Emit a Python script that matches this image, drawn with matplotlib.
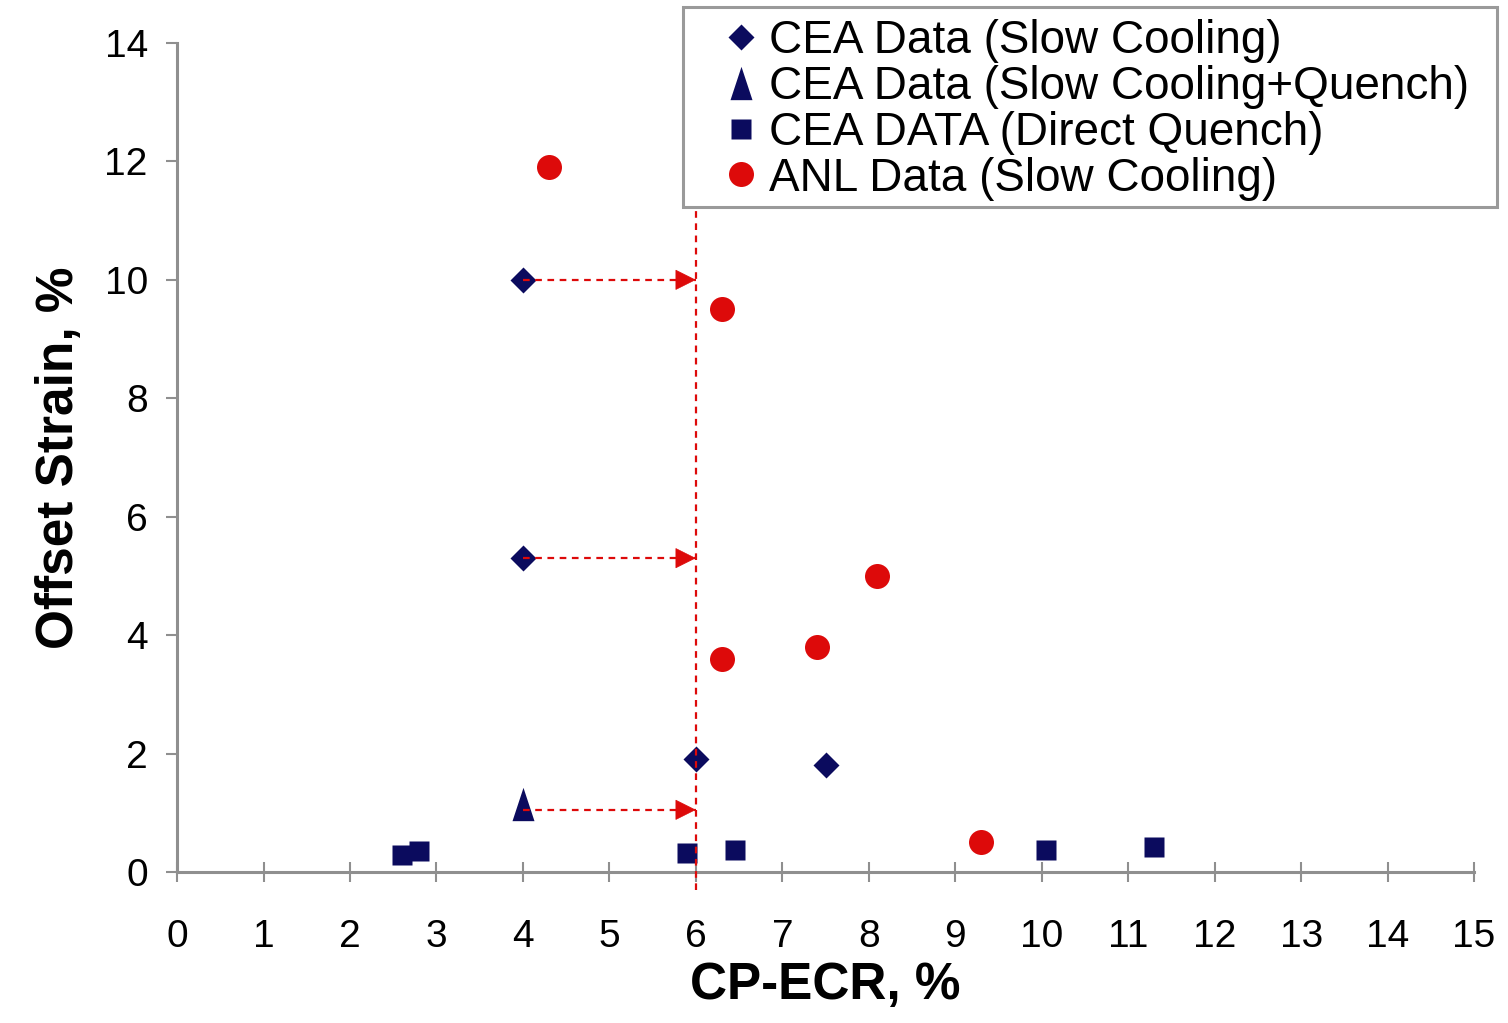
import matplotlib.pyplot as plt
from matplotlib.patches import Rectangle

plt.rcParams['font.family'] = ['Liberation Sans', 'DejaVu Sans']

# CEA data, slow cooling
slow_x = [4.0, 4.0, 6.0, 7.5]
slow_y = [10.0, 5.3, 1.9, 1.8]
# CEA data, slow cooling + quench
quench_x = [4.0]
quench_y = [1.15]
# CEA data, direct quench
direct_x = [2.6, 2.8, 5.9, 6.45, 10.05, 11.3]
direct_y = [0.28, 0.36, 0.32, 0.38, 0.38, 0.43]
# ANL data, slow cooling
anl_x = [4.3, 6.3, 8.1, 7.4, 6.3, 9.3]
anl_y = [11.9, 9.5, 5.0, 3.8, 3.6, 0.5]

cutoff_ecr = 6.0
arrow_from = 4.0
arrow_y = [10.0, 5.3, 1.05]

navy = '#0b0b5e'
red = '#dd0a0a'
grey = '#8f8f8f'
dash = (0, (3, 2.5))

fig = plt.figure(figsize=(15.08, 10.23), dpi=100)
ax = fig.add_axes([0.1174, 0.1476, 0.8601, 0.8104])

ax.plot(slow_x, slow_y, 'D', color=navy, ms=13, mec='none', label='CEA Data (Slow Cooling)', zorder=3)
tri = [(0, 1), (-0.66, -1), (0.66, -1)]
ax.plot(quench_x, quench_y, marker=tri, ls='none', color=navy, ms=24, mec='none',
        label='CEA Data (Slow Cooling+Quench)', zorder=3)
ax.plot(direct_x, direct_y, 's', color=navy, ms=15, mec='none', label='CEA DATA (Direct Quench)', zorder=3)
ax.plot(anl_x, anl_y, 'o', color=red, ms=18, mec='none', label='ANL Data (Slow Cooling)', zorder=3)

# cut-off line and shift arrows
ax.axvline(cutoff_ecr, ymin=-0.022, ymax=1.0, color=red, lw=1.6, ls=dash, clip_on=False, zorder=4)
for y in arrow_y:
    ax.plot([arrow_from, cutoff_ecr], [y, y], color=red, lw=1.6, ls=dash, zorder=5)
    # solid head at the end of the dashed shaft
    ax.annotate('', xy=(cutoff_ecr, y), xytext=(-15, 0), textcoords='offset points',
                arrowprops=dict(arrowstyle='-|>,head_length=0.6,head_width=0.3', color=red, lw=0.5,
                                shrinkA=0, shrinkB=0, mutation_scale=23), zorder=5)

ax.set_xlim(0, 15)
ax.set_ylim(0, 14)
ax.set_xticks(range(0, 16))
ax.set_yticks(range(0, 15, 2))
for s in ['top', 'right']:
    ax.spines[s].set_visible(False)
for s in ['left', 'bottom']:
    ax.spines[s].set_color(grey)
    ax.spines[s].set_linewidth(2.2)
ax.tick_params(axis='x', direction='inout', length=15, width=1.5, color=grey, pad=26, labelsize=28)
ax.tick_params(axis='y', direction='out', length=8, width=1.5, color=grey, pad=13, labelsize=28)

ax.set_xlabel('CP-ECR, %', fontsize=37, fontweight='bold')
ax.set_ylabel('Offset Strain, %', fontsize=37, fontweight='bold')
ax.xaxis.set_label_coords(0.5, -0.107)
ax.yaxis.set_label_coords(-0.072, 0.5)

# legend box sits on top of the cut-off line
box = Rectangle((0.4529, 0.7977), 0.5398, 0.1955, transform=fig.transFigure,
                facecolor='white', edgecolor='#9a9a9a', lw=2.2, zorder=4)
fig.add_artist(box)
fig.legend(loc='center left', bbox_to_anchor=(0.4642, 0.8927), frameon=False,
           fontsize=33, labelspacing=0.04, handlelength=0.8, handletextpad=0.2,
           borderpad=0, markerscale=1.0)

fig.savefig('out.png', dpi=100, facecolor='white')
